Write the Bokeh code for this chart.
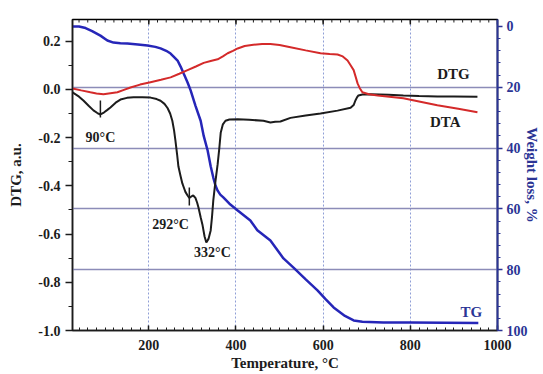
import math
from bokeh.plotting import figure
from bokeh.models import Range1d, LinearAxis, FixedTicker, Grid, PrintfTickFormatter
from bokeh.core.properties import value
from bokeh.embed import file_html
from bokeh.resources import INLINE

# ---- data ----
dtg_temp = [25, 40, 50, 62, 73, 82, 89, 97, 105, 112, 124, 135, 150, 165, 185, 204, 218, 227, 236,
            243, 249, 254, 258, 261, 265, 268, 273, 277, 281, 284, 289, 293, 297, 302, 307, 311, 314,
            319, 323, 328, 332, 337, 342, 345, 348, 353, 358, 362, 365, 370, 376, 385, 404, 430, 463,
            479, 490, 502, 525, 560, 594, 633, 663, 670, 674, 678, 681, 690, 709, 750, 784, 820, 862,
            900, 954]
dtg_val = [-0.012, -0.03, -0.046, -0.068, -0.087, -0.098, -0.104, -0.096, -0.085, -0.075, -0.055,
           -0.042, -0.035, -0.033, -0.032, -0.034, -0.04, -0.047, -0.06, -0.077, -0.1, -0.13, -0.17,
           -0.21, -0.27, -0.32, -0.36, -0.39, -0.41, -0.425, -0.44, -0.45, -0.445, -0.44, -0.45,
           -0.47, -0.49, -0.53, -0.56, -0.61, -0.635, -0.62, -0.585, -0.53, -0.46, -0.38, -0.31,
           -0.24, -0.18, -0.145, -0.13, -0.125, -0.124, -0.126, -0.13, -0.137, -0.134, -0.133,
           -0.118, -0.108, -0.1, -0.088, -0.076, -0.065, -0.046, -0.032, -0.025, -0.021, -0.02,
           -0.022, -0.025, -0.027, -0.029, -0.029, -0.03]

dta_temp = [25, 45, 66, 80, 96, 112, 128, 143, 158, 180, 204, 228, 250, 270, 289, 308, 326, 342,
            358, 370, 381, 393, 404, 420, 440, 460, 479, 500, 525, 560, 594, 615, 633, 645, 656,
            663, 670, 675, 679, 684, 690, 705, 725, 784, 820, 862, 910, 954]
dta_val = [0.004, -0.004, -0.012, -0.017, -0.02, -0.016, -0.012, -0.002, 0.008, 0.02, 0.03, 0.04,
           0.05, 0.065, 0.08, 0.095, 0.11, 0.118, 0.125, 0.137, 0.15, 0.16, 0.17, 0.18, 0.185,
           0.188, 0.188, 0.184, 0.175, 0.162, 0.15, 0.147, 0.145, 0.137, 0.12, 0.1, 0.08, 0.05,
           0.025, 0.005, -0.012, -0.02, -0.025, -0.037, -0.05, -0.066, -0.08, -0.095]

tg_temp = [25, 40, 55, 70, 89, 105, 119, 135, 151, 175, 197, 215, 227, 240, 250, 257, 266, 273,
           280, 289, 296, 307, 319, 326, 335, 342, 348, 353, 358, 364, 371, 385, 404, 433, 449,
           479, 509, 532, 560, 587, 605, 624, 650, 670, 690, 738, 800, 956]
tg_loss = [0, 0, 0.5, 1.5, 3.0, 4.6, 5.3, 5.5, 5.6, 5.9, 6.25, 6.7, 7.2, 8.0, 8.9, 9.9, 11.2, 13.2,
           15.5, 18.4, 21, 26, 31, 36, 40.8, 46, 49.7, 52.3, 54, 55.3, 56.2, 58.3, 60.5, 63.8, 67,
           70.4, 76.3, 79.3, 83.2, 86.8, 89.6, 92.4, 95.2, 96.7, 97.1, 97.4, 97.4, 97.5]

x_ticks = [200, 400, 600, 800, 1000]
x_minor = [40 + 20 * i for i in range(48)]
left_ticks = [-1.0, -0.8, -0.6, -0.4, -0.2, 0.0, 0.2]
left_minor = [-0.9, -0.7, -0.5, -0.3, -0.1, 0.1]
right_ticks = [0, 20, 40, 60, 80, 100]
right_minor = [4 * i for i in range(26)]
grid_x = [200, 400, 600, 800]
grid_tg = [20, 40, 60, 80]

peak_labels = ["90°C", "292°C", "332°C"]
peak_label_x = [89, 250, 346]
peak_label_y = [-0.2, -0.56, -0.676]
peak_mark_x = [89, 293]
peak_mark_top = [-0.046, -0.407]
peak_mark_bot = [-0.116, -0.481]

curve_labels = ["DTG", "DTA"]
curve_label_x = [899, 880]
curve_label_y = [0.066, -0.137]
tg_label = ["TG"]
tg_label_x = [940]
tg_label_y = [93.8]

X_MIN, X_MAX = 25, 1000
Y_MIN, Y_MAX = -1.0, 0.29
TG_TOP, TG_BOTTOM = -2.3, 100

# ---- style ----
FONT = "Liberation Serif"
BLACK = "#1c1c1c"
RED = "#d42a2a"
BLUE = "#2626b8"
AXBLUE = "#2b3595"

p = figure(width=543, height=374, x_range=Range1d(X_MIN, X_MAX), y_range=Range1d(Y_MIN, Y_MAX),
           output_backend="svg", toolbar_location=None,
           min_border_left=72, min_border_right=46, min_border_top=19, min_border_bottom=44)
p.extra_y_ranges = {"tg": Range1d(start=TG_BOTTOM, end=TG_TOP)}
p.background_fill_color = "white"
p.outline_line_color = "black"
p.outline_line_width = 1.5

# grids
p.xgrid.ticker = FixedTicker(ticks=grid_x)
p.xgrid.grid_line_color = "#8f9ed6"
p.xgrid.grid_line_dash = "2 2"
p.xgrid.grid_line_width = 1
p.ygrid.visible = False
p.add_layout(Grid(dimension=1, ticker=FixedTicker(ticks=grid_tg), y_range_name="tg",
                  grid_line_color="#8c8cb8", grid_line_width=1.5))

# bottom axis
xa = p.xaxis[0]
xa.ticker = FixedTicker(ticks=x_ticks, minor_ticks=x_minor)
xa.axis_label = "Temperature, °C"
xa.major_tick_in = 5
xa.major_tick_out = 0
xa.minor_tick_in = 3
xa.minor_tick_out = 0
xa.major_label_standoff = 9
xa.axis_label_standoff = 2

# left axis
ya = p.yaxis[0]
ya.ticker = FixedTicker(ticks=left_ticks, minor_ticks=left_minor)
ya.formatter = PrintfTickFormatter(format="%.1f")
ya.axis_label = "DTG, a.u."
ya.major_tick_out = 7
ya.major_tick_in = 0
ya.minor_tick_out = 4
ya.minor_tick_in = 0
ya.major_label_standoff = 5
ya.axis_label_standoff = 11

for ax in (xa, ya):
    ax.axis_line_color = BLACK
    ax.major_tick_line_color = BLACK
    ax.minor_tick_line_color = BLACK
    ax.axis_line_width = 1.5
    ax.major_tick_line_width = 1.5
    ax.minor_tick_line_width = 1

# right axis
ra = LinearAxis(y_range_name="tg", axis_label="Weight loss, %",
                ticker=FixedTicker(ticks=right_ticks, minor_ticks=right_minor))
ra.major_tick_out = 5
ra.major_tick_in = 0
ra.minor_tick_out = 3
ra.minor_tick_in = 0
ra.major_label_standoff = 4
ra.axis_label_standoff = -7
ra.axis_line_color = AXBLUE
ra.axis_line_width = 2
ra.major_tick_line_color = AXBLUE
ra.minor_tick_line_color = AXBLUE
ra.major_tick_line_width = 1.5
ra.major_label_text_color = AXBLUE
ra.axis_label_text_color = AXBLUE
p.add_layout(ra, "right")

for ax in (xa, ya, ra):
    ax.major_label_text_font = FONT
    ax.major_label_text_font_style = "bold"
    ax.major_label_text_font_size = "14px"
    ax.axis_label_text_font = FONT
    ax.axis_label_text_font_style = "bold"
    ax.axis_label_text_font_size = "15px"
xa.major_label_text_color = BLACK
ya.major_label_text_color = BLACK
xa.axis_label_text_color = BLACK
ya.axis_label_text_color = BLACK

# mirrored inward ticks along the top edge
p.ray(x=x_ticks, y=[Y_MAX] * len(x_ticks), length=5, length_units="screen",
      angle=-math.pi / 2, line_color=BLACK, line_width=1.5)
p.ray(x=x_minor, y=[Y_MAX] * len(x_minor), length=3, length_units="screen",
      angle=-math.pi / 2, line_color=BLACK, line_width=1)

# curves
p.line(tg_temp, tg_loss, y_range_name="tg", line_color=BLUE, line_width=2.5)
p.line(dtg_temp, dtg_val, line_color=BLACK, line_width=2)
p.line(dta_temp, dta_val, line_color=RED, line_width=2)

# peak markers
p.segment(x0=peak_mark_x, y0=peak_mark_top, x1=peak_mark_x, y1=peak_mark_bot,
          line_color=BLACK, line_width=1.5)

# annotations
p.text(x=peak_label_x, y=peak_label_y, text=peak_labels, text_font=value(FONT),
       text_font_style="bold", text_font_size="14px", text_color=BLACK,
       text_align="center", text_baseline="middle")
p.text(x=curve_label_x, y=curve_label_y, text=curve_labels, text_font=value(FONT),
       text_font_style="bold", text_font_size="15px", text_color=BLACK,
       text_align="center", text_baseline="middle")
p.text(x=tg_label_x, y=tg_label_y, text=tg_label, y_range_name="tg", text_font=value(FONT),
       text_font_style="bold", text_font_size="15px", text_color=AXBLUE,
       text_align="center", text_baseline="middle")

open("out.html", "w").write(file_html(p, INLINE))
